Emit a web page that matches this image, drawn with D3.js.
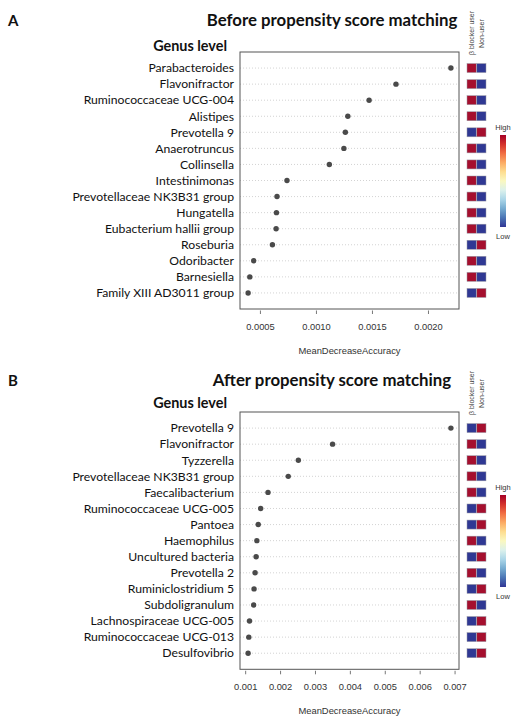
<!DOCTYPE html>
<html><head><meta charset="utf-8">
<script src="https://cdn.jsdelivr.net/npm/d3@7"></script>
<style>body{margin:0;background:#fff}svg{display:block}</style>
</head><body>
<script>
// ---- Data ----
const generaA = ["Parabacteroides","Flavonifractor","Ruminococcaceae UCG-004","Alistipes","Prevotella 9","Anaerotruncus","Collinsella","Intestinimonas","Prevotellaceae NK3B31 group","Hungatella","Eubacterium hallii group","Roseburia","Odoribacter","Barnesiella","Family XIII AD3011 group"];
const valuesA = [0.00220,0.00171,0.00147,0.00128,0.001258,0.001245,0.001115,0.000737,0.000648,0.000643,0.00064,0.000607,0.00044,0.000405,0.00039];
// 1 = high, 0 = low ; [β blocker user, Non-user]
const betaA = [1,1,1,1,0,1,1,1,1,1,1,0,1,1,0];
const nonA  = [0,0,0,0,1,0,0,0,0,0,0,1,0,0,1];
const ticksA = [0.0005,0.0010,0.0015,0.0020];
const tickLabelsA = ["0.0005","0.0010","0.0015","0.0020"];

const generaB = ["Prevotella 9","Flavonifractor","Tyzzerella","Prevotellaceae NK3B31 group","Faecalibacterium","Ruminococcaceae UCG-005","Pantoea","Haemophilus","Uncultured bacteria","Prevotella 2","Ruminiclostridium 5","Subdoligranulum","Lachnospiraceae UCG-005","Ruminococcaceae UCG-013","Desulfovibrio"];
const valuesB = [0.00688,0.00349,0.00251,0.00222,0.00164,0.00143,0.00136,0.00132,0.00130,0.00127,0.00124,0.00123,0.00111,0.00109,0.00107];
const betaB = [0,1,1,1,1,0,0,1,0,1,0,1,0,0,0];
const nonB  = [1,0,0,0,0,1,1,0,1,0,1,0,1,1,1];
const ticksB = [0.001,0.002,0.003,0.004,0.005,0.006,0.007];
const tickLabelsB = ["0.001","0.002","0.003","0.004","0.005","0.006","0.007"];

const groupLabels = ["β blocker user","Non-user"];

// ---- Drawing ----
const W = 518, H = 719;
const svg = d3.select("body").append("svg").attr("width", W).attr("height", H);
const RED = "#a50f2e", BLUE = "#2f3893";

function panel(o) {
  const g = svg.append("g");
  const left = 240, right = 459;
  const ext = d3.extent(o.values);
  const pad = (ext[1] - ext[0]) * 0.04;
  const x = d3.scaleLinear().domain([ext[0] - pad, ext[1] + pad]).range([left, right]);
  const y = d3.scaleLinear().domain([0, o.genera.length + 1]).range([o.top, o.bottom]);

  // panel letter, title, subtitle
  g.append("text").attr("x", 8).attr("y", o.titleY).text(o.letter)
    .style("font-family", "Lato").style("font-weight", "bold").style("font-size", "15px").attr("fill", "#111");
  g.append("text").attr("x", 332).attr("y", o.titleY).attr("text-anchor", "middle").text(o.title)
    .style("font-family", "Lato").style("font-weight", "bold").style("font-size", "16.8px").attr("fill", "#111");
  g.append("text").attr("x", 227).attr("y", o.subY).attr("text-anchor", "end").text("Genus level")
    .style("font-family", "Lato").style("font-weight", "bold").style("font-size", "14.4px").attr("fill", "#111");

  // grid lines
  g.selectAll("line.grid").data(o.genera).join("line").attr("class", "grid")
    .attr("x1", left).attr("x2", right)
    .attr("y1", (d, i) => y(i + 1)).attr("y2", (d, i) => y(i + 1))
    .attr("stroke", "#c8c8c8").attr("stroke-width", 0.8).attr("stroke-dasharray", "1,2");

  // box
  g.append("rect").attr("x", left).attr("y", o.top).attr("width", right - left).attr("height", o.bottom - o.top)
    .attr("fill", "none").attr("stroke", "#555").attr("stroke-width", 1);

  // labels
  g.selectAll("text.lab").data(o.genera).join("text").attr("class", "lab")
    .attr("x", left - 6).attr("y", (d, i) => y(i + 1)).attr("dy", "0.35em")
    .attr("text-anchor", "end").text(d => d)
    .style("font-family", "Lato").style("font-size", "12.2px").attr("fill", "#111");

  // points
  g.selectAll("circle").data(o.values).join("circle")
    .attr("cx", d => x(d)).attr("cy", (d, i) => y(i + 1)).attr("r", 2.7).attr("fill", "#4a4a4a");

  // x axis
  const ax = g.append("g");
  ax.selectAll("line").data(o.ticks).join("line")
    .attr("x1", d => x(d)).attr("x2", d => x(d)).attr("y1", o.bottom + 1.5).attr("y2", o.bottom + 5)
    .attr("stroke", "#555").attr("stroke-width", 0.8);
  ax.selectAll("text").data(o.ticks).join("text")
    .attr("x", d => x(d)).attr("y", o.bottom + 21).attr("text-anchor", "middle")
    .text((d, i) => o.tickLabels[i])
    .style("font-family", "Liberation Sans, Arial, sans-serif").style("font-size", "9.3px").attr("fill", "#333");
  g.append("text").attr("x", 349.5).attr("y", o.bottom + 44.5).attr("text-anchor", "middle").text("MeanDecreaseAccuracy")
    .style("font-family", "Liberation Sans, Arial, sans-serif").style("font-size", "9.4px").attr("fill", "#333");

  // heat squares
  const cols = [o.beta, o.non];
  const colX = d3.scaleBand().domain([0, 1]).range([467, 486]).paddingInner(0.06);
  cols.forEach((arr, c) => {
    g.selectAll("rect.sq" + c).data(arr).join("rect").attr("class", "sq" + c)
      .attr("x", colX(c)).attr("y", (d, i) => y(i + 1) - 4.5)
      .attr("width", colX.bandwidth()).attr("height", 9)
      .attr("fill", d => d ? RED : BLUE).attr("stroke", "#9a9aa6").attr("stroke-width", 0.5);
  });
  // column labels
  groupLabels.forEach((lab, c) => {
    g.append("text")
      .attr("transform", `translate(${colX(c) + colX.bandwidth() / 2 + 2.5},${o.top + 3 - (c ? 7 : 0)}) rotate(-90)`)
      .text(lab).style("font-family", "Liberation Sans, Arial, sans-serif").style("font-size", "7px").attr("fill", "#444");
  });

  // color legend
  const gid = "grad" + o.letter;
  const grad = svg.append("defs").append("linearGradient").attr("id", gid)
    .attr("x1", 0).attr("y1", 1).attr("x2", 0).attr("y2", 0);
  d3.range(0, 1.0001, 0.1).forEach(t => grad.append("stop").attr("offset", t).attr("stop-color", d3.interpolateRdYlBu(1 - t)));
  g.append("rect").attr("x", 500).attr("y", o.legTop).attr("width", 6).attr("height", 92).attr("fill", `url(#${gid})`);
  g.append("text").attr("x", 503).attr("y", o.legTop - 5).attr("text-anchor", "middle").text("High")
    .style("font-family", "Liberation Sans, Arial, sans-serif").style("font-size", "7.5px").attr("fill", "#333");
  g.append("text").attr("x", 503).attr("y", o.legTop + 104).attr("text-anchor", "middle").text("Low")
    .style("font-family", "Liberation Sans, Arial, sans-serif").style("font-size", "7.5px").attr("fill", "#333");
}

panel({letter: "A", title: "Before propensity score matching", titleY: 26, subY: 51, top: 52, bottom: 309,
  genera: generaA, values: valuesA, beta: betaA, non: nonA, ticks: ticksA, tickLabels: tickLabelsA, legTop: 135});
panel({letter: "B", title: "After propensity score matching", titleY: 386, subY: 408, top: 412, bottom: 669.3,
  genera: generaB, values: valuesB, beta: betaB, non: nonB, ticks: ticksB, tickLabels: tickLabelsB, legTop: 495});
</script>
</body></html>
